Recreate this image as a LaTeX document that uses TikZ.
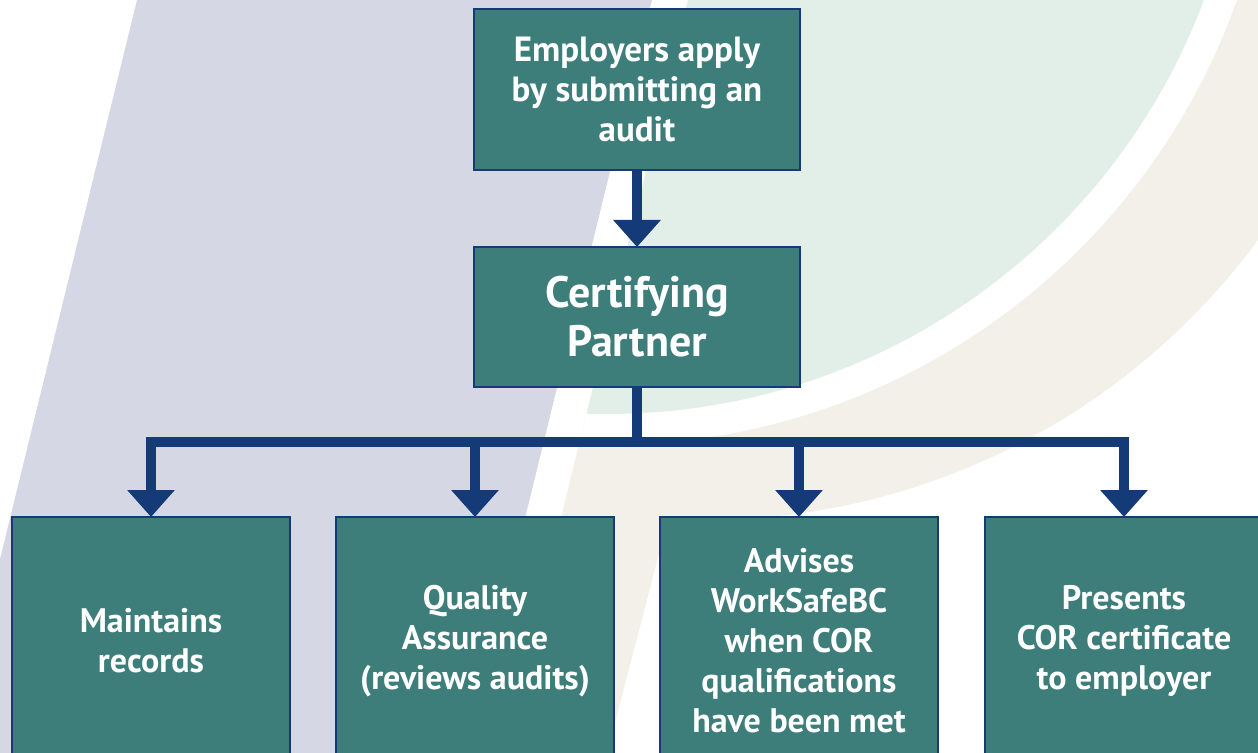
\documentclass[tikz,border=0pt]{standalone}
\usepackage{fontspec}
\setmainfont{PT Sans}
\usetikzlibrary{arrows.meta}

\definecolor{boxteal}{HTML}{3D7D7A}
\definecolor{arrownavy}{HTML}{143B77}
\definecolor{lavender}{HTML}{D5D7E5}
\definecolor{mint}{HTML}{E2EEE8}
\definecolor{sand}{HTML}{F2F0E8}

\tikzset{
  tealbox/.style={draw=arrownavy, line width=1pt, fill=boxteal, text=white,
    align=center, inner sep=0pt, outer sep=0pt},
  smalltext/.style={font=\bfseries\fontsize{17.5}{20}\selectfont},
  lowtext/.style={font=\bfseries\fontsize{17}{20}\selectfont},
  flow/.style={draw=arrownavy, line width=5pt, -{Triangle[width=23pt,length=13.5pt]}},
  trunk/.style={draw=arrownavy, line width=5pt}
}

\begin{document}
\begin{tikzpicture}[x=0.5pt, y=-0.5pt]
\useasboundingbox (0,0) rectangle (1258,753);
\clip (0,0) rectangle (1258,753);

\fill[lavender] (137,0) -- (652,0) -- (467.5,753) -- (-47.5,753) -- cycle;
\begin{scope}
  \clip (688,0) -- (1300,0) -- (1300,800) -- (492,800) -- cycle;
  \fill[sand] (704,-168) circle[radius=688];
  \fill[sand] (767,517) -- (660,550) -- (600,780) -- (450,780) -- (450,300) -- (767,300) -- cycle;
  \fill[white] (607,-223) circle[radius=668];
  \fill[mint] (607,-223) circle[radius=637];
\end{scope}

\node[tealbox, smalltext, minimum width=163pt, minimum height=80.5pt] (emp) at (637,89.5)
  {Employers apply\\by submitting an\\audit};
\node[tealbox, font=\bfseries\fontsize{22}{24.5}\selectfont, minimum width=163pt, minimum height=70pt] (cp) at (637,317)
  {Certifying\\Partner};

\node[tealbox, lowtext, minimum width=139pt, minimum height=124pt] (recs) at (151,641)
  {Maintains\\records};
\node[tealbox, lowtext, minimum width=139pt, minimum height=124pt] (qa) at (475,641)
  {Quality\\Assurance\\(reviews audits)};
\node[tealbox, lowtext, minimum width=139pt, minimum height=124pt] (adv) at (799,641)
  {Advises\\WorkSafeBC\\when COR\\qualifications\\have been met};
\node[tealbox, lowtext, minimum width=139pt, minimum height=124pt] (cor) at (1124,641)
  {Presents\\COR certificate\\to employer};

\coordinate (split) at (637,442);
\draw[flow] (emp) -- (cp);
\draw[trunk] (cp) -- (split);
\draw[flow] (split) -| (recs);
\draw[flow] (split) -| (qa);
\draw[flow] (split) -| (adv);
\draw[flow] (split) -| (cor);
\end{tikzpicture}
\end{document}
